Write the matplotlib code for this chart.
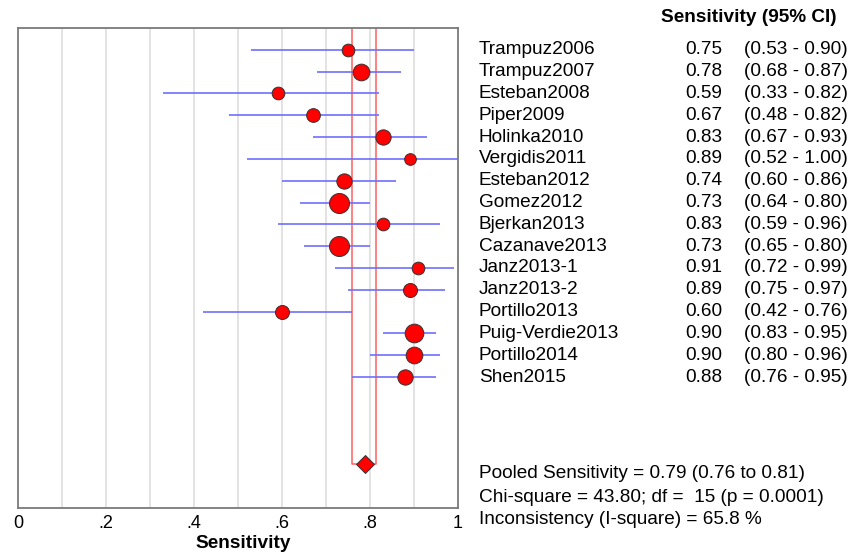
import numpy as np
import matplotlib.pyplot as plt

plt.rcParams['font.family'] = ['Liberation Sans', 'DejaVu Sans']

studies = ['Trampuz2006', 'Trampuz2007', 'Esteban2008', 'Piper2009', 'Holinka2010',
           'Vergidis2011', 'Esteban2012', 'Gomez2012', 'Bjerkan2013', 'Cazanave2013',
           'Janz2013-1', 'Janz2013-2', 'Portillo2013', 'Puig-Verdie2013', 'Portillo2014',
           'Shen2015']
sens = [0.75, 0.78, 0.59, 0.67, 0.83, 0.89, 0.74, 0.73, 0.83, 0.73,
        0.91, 0.89, 0.60, 0.90, 0.90, 0.88]
lo = [0.53, 0.68, 0.33, 0.48, 0.67, 0.52, 0.60, 0.64, 0.59, 0.65,
      0.72, 0.75, 0.42, 0.83, 0.80, 0.76]
hi = [0.90, 0.87, 0.82, 0.82, 0.93, 1.00, 0.86, 0.80, 0.96, 0.80,
      0.99, 0.97, 0.76, 0.95, 0.96, 0.95]
# relative study weights, read as marker diameters (px)
weights = [12.7, 16.7, 12.7, 13.7, 15.3, 11.7, 15.3, 20, 12.7, 20,
           12.7, 14, 14, 18.7, 16.7, 15.3]

pooled = 0.789
pooled_lo = 0.76
pooled_hi = 0.814
chi2 = 43.80
df = 15
p_val = 0.0001
i2 = 65.8

fig = plt.figure(figsize=(8.61, 5.53), dpi=100)
ax = fig.add_axes([18 / 861, 1 - 508 / 553, 440 / 861, 480 / 553])

y = np.arange(len(studies))
pool_y = 19
px2pt = 72 / 100

for xv in np.arange(0.1, 1.0, 0.1):
    ax.axvline(xv, color='#dedede', lw=1.2, zorder=0)

ax.plot([pooled_lo, pooled_lo, pooled_hi, pooled_hi], [-1, pool_y, pool_y, -1],
        color='#ff6060', lw=1.1, zorder=1)

ax.hlines(y, lo, hi, color='#6e6eff', lw=1.2, zorder=2)
for yi, s, w in zip(y, sens, weights):
    ax.plot(s, yi, 'o', ms=w * px2pt, mfc='red', mec='#333333', mew=0.7, zorder=3)

ax.plot(pooled, pool_y, 'D', ms=9, mfc='red', mec='#333333', mew=0.7, zorder=3)

ax.set_xlim(0, 1)
ax.set_ylim(21, -1)
ax.set_yticks([])
ax.set_xticks([0, 0.2, 0.4, 0.6, 0.8, 1.0])
ax.set_xticklabels(['0', '.2', '.4', '.6', '.8', '1'], fontsize=13)
ax.tick_params(axis='x', length=0, pad=5)
ax.set_xlabel('Sensitivity', fontsize=13.7, fontweight='bold')
ax.xaxis.set_label_coords(0.511, -35 / 480 * 1.0, transform=ax.transAxes)
ax.xaxis.label.set_va('center')
for sp in ax.spines.values():
    sp.set_color('#7a7a7a')
    sp.set_linewidth(1.3)

# right hand table
fs = 13.7
fig.text(837 / 861, 1 - 17 / 553, 'Sensitivity (95% CI)', ha='right', va='center',
         fontsize=fs, fontweight='bold')
for yi, name, s, l, h in zip(y, studies, sens, lo, hi):
    yy = ax.transData.transform((0, yi))[1] / fig.bbox.height
    fig.text(479 / 861, yy, name, ha='left', va='center', fontsize=fs)
    fig.text(722 / 861, yy, f'{s:.2f}', ha='right', va='center', fontsize=fs)
    fig.text(848 / 861, yy, f'({l:.2f} - {h:.2f})', ha='right', va='center', fontsize=fs)

foot = [f'Pooled Sensitivity = {pooled:.2f} ({pooled_lo:.2f} to {pooled_hi:.2f})',
        f'Chi-square = {chi2:.2f}; df =  {df} (p = {p_val:.4f})',
        f'Inconsistency (I-square) = {i2:.1f} %']
for k, t in enumerate(foot):
    fig.text(479 / 861, 1 - (474 + 23 * k) / 553, t, ha='left', va='center', fontsize=fs)

fig.savefig('out.png', dpi=100)
